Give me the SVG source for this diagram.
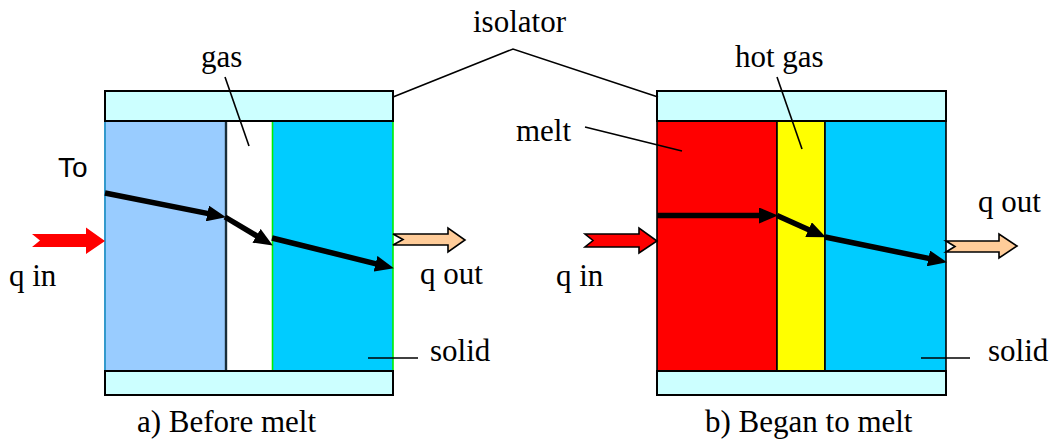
<svg xmlns="http://www.w3.org/2000/svg" width="1053" height="441" viewBox="0 0 1053 441">
<style>
.t{font-family:'Liberation Serif','Times New Roman',serif;font-size:31px;fill:#000}
.s{font-family:'Liberation Sans',Arial,sans-serif;font-size:28px;fill:#000}
.iso{fill:#CCFFFF;stroke:#000;stroke-width:2}
.lead{fill:none;stroke:#000;stroke-width:1.6}
.flow{fill:none;stroke:#000;stroke-width:5.5;marker-end:url(#ah)}
.cell{stroke:#000;stroke-width:1.6}
</style>
<defs>
<marker id="ah" markerUnits="userSpaceOnUse" markerWidth="20" markerHeight="16" refX="10" refY="8" orient="auto">
<path d="M0,0 L19,8 L0,16 z" fill="#000"/>
</marker>
</defs>
<rect width="1053" height="441" fill="#fff"/>

<g id="panel-a">
  <rect x="105" y="121" width="120" height="250" fill="#99CCFF"/>
  <line x1="105" y1="121" x2="105" y2="371" stroke="#3399CC" stroke-width="2"/>
  <rect x="226" y="121" width="46" height="250" fill="#fff"/>
  <line x1="226" y1="121" x2="226" y2="371" stroke="#1A2E3A" stroke-width="2.4"/>
  <rect x="272" y="121" width="121" height="250" fill="#00CCFF"/>
  <line x1="272.5" y1="121" x2="272.5" y2="371" stroke="#00EE00" stroke-width="1.6"/>
  <line x1="393" y1="121" x2="393" y2="371" stroke="#00EE00" stroke-width="1.6"/>
  <rect class="iso" x="105" y="91" width="288" height="30"/>
  <rect class="iso" x="105" y="371" width="288" height="24"/>
</g>

<g id="panel-b">
  <rect class="cell" x="657" y="121" width="120" height="250" fill="#FF0000"/>
  <rect class="cell" x="777" y="121" width="48" height="250" fill="#FFFF00"/>
  <rect class="cell" x="825" y="121" width="121" height="250" fill="#00CCFF"/>
  <rect class="iso" x="657" y="91" width="289" height="30"/>
  <rect class="iso" x="657" y="371" width="289" height="24"/>
</g>

<g id="heat-arrows">
  <path id="qin-a" d="M32,234 L86,234 L86,227.5 L105,241 L86,254 L86,247 L32,247 L40,240.5 z" fill="#FF0000"/>
  <path id="qout-a" d="M393,234 L448,234 L448,228 L465,240 L448,252 L448,245 L393,245 L403,239.5 z" fill="#FFCC99" stroke="#000" stroke-width="1.6"/>
  <path id="qin-b" d="M585,234 L639,234 L639,228 L657,241 L639,253 L639,247 L585,247 L593,240.5 z" fill="#FF0000" stroke="#000" stroke-width="1.6"/>
  <path id="qout-b" d="M946,241 L999,241 L999,234 L1017,246 L999,258 L999,252 L946,252 L955,246.5 z" fill="#FFCC99" stroke="#000" stroke-width="1.6"/>
</g>

<g id="connectors">
  <line class="flow" x1="105" y1="193" x2="217.2" y2="215.4"/>
  <line class="flow" x1="225" y1="217" x2="265.1" y2="240.9"/>
  <line class="flow" x1="272" y1="238" x2="385.2" y2="266.1"/>
  <line class="flow" x1="657" y1="215.5" x2="769" y2="215.5"/>
  <line class="flow" x1="777" y1="215.5" x2="817.7" y2="233.7"/>
  <line class="flow" x1="825" y1="237" x2="938.2" y2="260.4"/>
  <polyline class="lead" points="393,97 513,49 658,97"/>
  <line class="lead" x1="225" y1="77" x2="249" y2="146"/>
  <line class="lead" x1="777" y1="77" x2="802" y2="149"/>
  <line class="lead" x1="585" y1="127" x2="682" y2="151"/>
  <line class="lead" x1="368" y1="358" x2="418" y2="358"/>
  <line class="lead" x1="921" y1="358" x2="970" y2="358"/>
</g>

<g id="labels">
  <text class="t" x="473" y="32">isolator</text>
  <text class="t" x="201" y="67">gas</text>
  <text class="t" x="735" y="67">hot gas</text>
  <text class="t" x="516" y="141">melt</text>
  <text class="s" x="58" y="177">To</text>
  <text class="t" x="9" y="286">q in</text>
  <text class="t" x="556" y="286">q in</text>
  <text class="t" x="420" y="284">q out</text>
  <text class="t" x="978" y="212">q out</text>
  <text class="t" x="430" y="361">solid</text>
  <text class="t" x="988" y="361">solid</text>
  <text class="t" x="137" y="432">a) Before melt</text>
  <text class="t" x="705" y="432">b) Began to melt</text>
</g>
</svg>
